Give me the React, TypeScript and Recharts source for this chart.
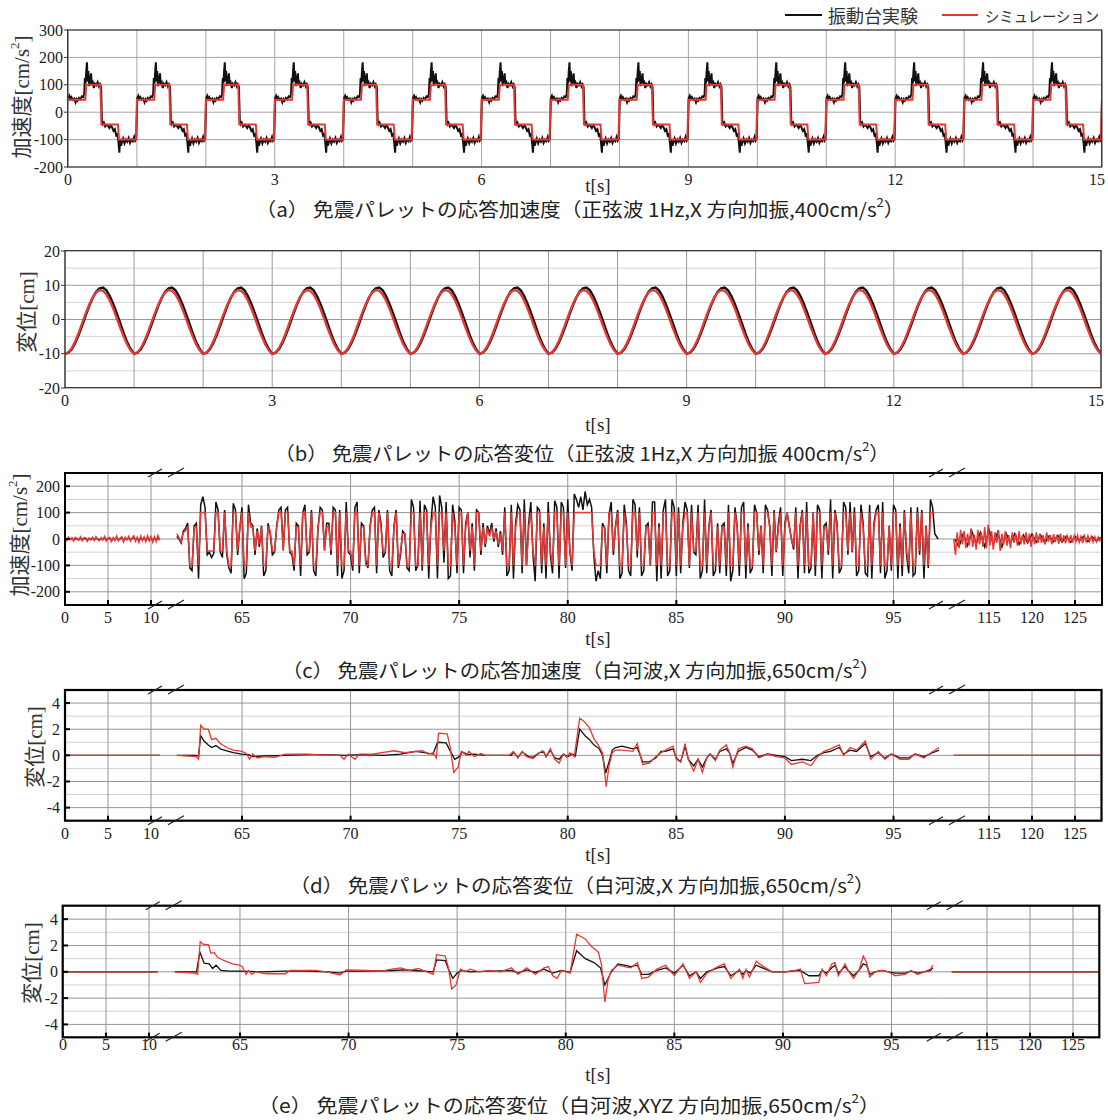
import React from 'react';
import { LineChart, Line, XAxis, YAxis, CartesianGrid } from 'recharts';

type Pair = [number, number];
type Row = { t: number; v: number };

const BLACK = '#111111';
const RED = '#e53935';
const SERIF = "'Liberation Serif','Times New Roman','DejaVu Serif','Noto Sans CJK JP',serif";
const GOTHIC = "'Noto Sans CJK JP',sans-serif";

const seriesNames = ['振動台実験', 'シミュレーション'];

// ---------------- (a) acceleration, sine 1Hz : one cycle (cycles repeat)
const aCycles = 15;
const aBlackCycle: Pair[] = [
  [0.005, 52], [0.02, 60], [0.035, 48], [0.05, 55], [0.07, 45], [0.09, 50], [0.11, 36], [0.125, 48],
  [0.14, 42], [0.16, 52], [0.18, 47], [0.2, 58], [0.22, 55], [0.235, 65], [0.245, 125], [0.255, 105],
  [0.265, 150], [0.275, 182], [0.285, 112], [0.295, 150], [0.305, 95], [0.32, 118], [0.335, 142],
  [0.345, 100], [0.36, 108], [0.375, 88], [0.39, 104], [0.41, 98], [0.43, 110], [0.45, 94], [0.465, 102],
  [0.48, 92], [0.492, -30], [0.505, -44], [0.52, -38], [0.54, -52], [0.56, -46], [0.58, -50], [0.6, -58],
  [0.62, -48], [0.64, -55], [0.66, -68], [0.68, -62], [0.7, -85], [0.72, -80], [0.735, -118], [0.745, -148],
  [0.755, -102], [0.77, -122], [0.785, -108], [0.8, -96], [0.82, -114], [0.84, -100], [0.86, -108],
  [0.88, -94], [0.9, -112], [0.92, -100], [0.94, -106], [0.96, -90], [0.975, -104], [0.99, -98],
];
const aRedCycle: Pair[] = [
  [0, 45], [0.25, 45], [0.265, 100], [0.47, 100], [0.485, -45], [0.725, -45], [0.74, -100], [0.985, -100],
];
const aRedTail: Pair = [0, 45];
const aYTicks = [-200, -100, 0, 100, 200, 300];
const aXTicks = [0, 1, 2, 3, 4, 5, 6, 7, 8, 9, 10, 11, 12, 13, 14, 15];
const aXLabels = [0, 3, 6, 9, 12, 15];

// ---------------- (b) displacement, sine 1Hz : one cycle at 0.05 s
const bStep = 0.05;
const bBlackCycle = [-10, -9.7, -8.6, -6.8, -4.4, -1.7, 1.2, 3.9, 6.3, 8.1, 9.1, 9.3, 8.5, 6.8, 4.5, 1.8, -1.1, -4.0, -6.6, -8.6];
const bRedCycle = [-10, -9.6, -8.3, -6.3, -3.8, -1.0, 1.8, 4.3, 6.4, 7.9, 8.6, 8.4, 7.3, 5.5, 3.1, 0.4, -2.4, -5.0, -7.3, -9.0];
const bTail: Pair = [0, -10];
const bYTicks = [-20, -10, 0, 10, 20];
const bMinorY = [-15, -5, 5, 15];

// ---------------- broken time axis (c)(d)(e)
const segDomains: Pair[] = [[0, 11.51], [61.41, 97.37], [109.88, 128.14]];
const segPx: Pair[] = [[65, 164], [164, 945], [945, 1102]];
const segTicks = [[0, 5, 10], [65, 70, 75, 80, 85, 90, 95], [115, 120, 125]];

// (c) acceleration, Shirakawa wave
const cYTicks = [-200, -100, 0, 100, 200];
const cMinorY = [-150, -50, 50, 150];
const cSeg1Black = [2, -3, 4, -1, 3, -4, 2, 1, -3, 4, -2, 3, 1, -4, 2, -2, 3, -3, 4, -1, -3, 2, -2, 5, -4, 2, 3, -5, 2, -3, 5, -3, 1, 4, -5, 3, -2, 5, -4, 2, 6, -4, 3, -6, 5, -3, 4, -5, 6, -4, 5, -6, 4, -5, 6, -3];
const cSeg1Red = [3, -6, 7, -2, 5, -8, 6, 2, -5, 8, -7, 4, 5, -9, 4, -3, 7, -6, 9, -2, -7, 5, -4, 10, -8, 3, 6, -10, 5, -6, 11, -7, 2, 9, -11, 6, -3, 10, -8, 4, 12, -9, 7, -13, 11, -6, 8, -10, 12, -7, 9, -12, 8, -10, 13, -5];
// 62.0 s .. 96.9 s, every 0.1 s (one row per second)
const cMidBlack = [
  10, 0, -15, 30, 40, 60, -110, -120, 50, 60,
  -150, 130, 160, 120, -60, -50, -70, -55, 140, 110,
  -50, -70, 110, -60, -110, -130, 135, 110, -60, 40,
  120, -150, -130, 130, 60, 50, -60, 40, -30, 50,
  -140, -120, 60, 20, -60, -50, 50, 110, 120, -40,
  110, 120, -50, -60, -120, 60, 50, -140, 100, 130,
  -60, -50, 110, -120, -140, 40, 120, 110, -40, 60,
  60, -60, 120, 110, -140, 110, -150, -120, 140, -50,
  -60, -120, 120, 140, -130, 60, 50, -80, -110, 50,
  110, 120, -130, 110, 60, -70, -50, 110, -120, -140,
  50, 110, -110, -60, 30, 20, -110, -120, 150, 120,
  -120, -100, 145, -120, 130, 110, -150, 60, 160, 120,
  -150, 165, 120, -90, 140, -150, -140, 130, 70, -130,
  120, 110, -130, 60, 100, -70, 60, -120, 110, 100,
  -60, 60, -30, 50, 20, 60, -10, 40, -30, 30,
  -60, 120, -140, -120, 130, -150, 60, 130, 110, -130,
  150, -100, 60, 140, -60, -160, 120, 110, -130, 60,
  -150, 140, -60, -130, 145, 120, -150, 140, 120, -110,
  150, -50, -120, 170, 150, 120, 160, 110, 180, 130,
  150, 120, -60, -160, -120, -150, 60, 40, -130, 90,
  140, -60, 50, 110, -150, -130, 130, 60, -120, -140,
  150, 130, -70, 120, -140, -120, 50, 60, -100, 140,
  140, -160, 60, -150, 110, 150, -140, -120, 150, 120,
  -140, 120, -130, 60, 140, 110, -110, 130, -50, -60,
  130, -150, -120, 150, -130, 50, 110, -140, -120, 60,
  -130, 50, 60, -140, 130, -160, -120, 120, 50, -140,
  120, 140, -150, 60, -130, -110, 130, 100, -60, 50,
  -130, 130, 110, 50, -140, 110, -50, 60, 120, -140,
  60, 100, 50, 0, -40, 120, -150, 50, 110, -130,
  140, -130, -110, 100, -140, 130, 110, -150, 50, 60,
  -60, 150, -150, 110, 60, -130, -110, 140, 120, -60,
  140, -50, 120, -140, -120, 130, 60, -130, -140, 130,
  -150, 60, 110, 130, -130, 140, -150, -120, 50, -120,
  130, 110, -150, 60, -140, 110, -60, -130, 120, -140,
  -130, 120, -60, 110, -150, 50, -110, 150, 120, 20,
];
const cMidBlackEnd: Pair = [97.05, 0];
const cMidRed = [
  20, 5, -10, 25, 30, 45, -100, -100, 45, 45,
  -100, 100, 100, 100, -45, -45, -45, -45, 100, 100,
  -45, -45, 100, -45, -100, -100, 100, 100, -45, 45,
  100, -100, -100, 100, 45, 45, -45, 30, -20, 45,
  -100, -100, 45, 30, -45, -45, 45, 100, 100, -45,
  100, 100, -45, -45, -100, 45, 45, -100, 100, 100,
  -45, -45, 100, -100, -100, 45, 100, 100, -45, 45,
  45, -45, 100, 100, -100, 100, -100, -100, 100, -45,
  -45, -100, 100, 100, -100, 45, 45, -100, -100, 45,
  100, 100, -100, 100, 45, -45, -45, 100, -100, -100,
  45, 100, -100, -45, 20, 20, -100, -100, 100, 100,
  -100, -100, 100, -100, 100, 100, -100, 45, 100, 100,
  -100, 100, 100, -45, 100, -100, -100, 100, 45, -100,
  100, 100, -100, 45, 100, -45, 45, -100, 100, 100,
  -45, 45, -20, 40, 10, 45, 0, 30, -20, 20,
  -45, 100, -100, -100, 100, -100, 45, 100, 100, -100,
  100, -100, 45, 100, -45, -100, 100, 100, -100, 45,
  -100, 100, -45, -100, 100, 100, -100, 100, 100, -100,
  100, -45, -100, 100, 100, 100, 100, 100, 100, 100,
  100, 100, -45, -100, -100, -100, 45, 45, -100, 100,
  100, -45, 45, 100, -100, -100, 100, 45, -100, -100,
  100, 100, -45, 100, -100, -100, 45, 45, -100, 100,
  100, -100, 45, -100, 100, 100, -100, -100, 100, 100,
  -100, 100, -100, 45, 100, 100, -100, 100, -45, -45,
  100, -100, -100, 100, -100, 45, 100, -100, -100, 45,
  -100, 45, 45, -100, 100, -100, -100, 100, 45, -100,
  100, 100, -100, 45, -100, -100, 100, 100, -45, 45,
  -100, 100, 100, 45, -100, 100, -45, 45, 100, -100,
  45, 100, 45, 0, -30, 100, -100, 45, 100, -100,
  100, -100, -100, 100, -100, 100, 100, -100, 45, 45,
  -45, 100, -100, 100, 45, -100, -100, 100, 100, -45,
  100, -45, 100, -100, -100, 100, 45, -100, -100, 100,
  -100, 45, 100, 100, -100, 100, -100, -100, 45, -100,
  100, 100, -100, 45, -100, 100, -45, -100, 100, -100,
  -100, 100, -45, 100, -100, 45, -100, 100, 100, 100,
];
const cSeg3Black = [0, -30, 20, -25, 30, -20, 25, -30, 35, -20, 25, -30, 20, -15, 20, -20, 15, -15, 18, -12, 15, -15, 12, -10, 14, -12, 10, -12, 10, -8, 10, -10, 8, -8, 6];
const cSeg3Red = [
  0, -60, 25, -30, 35, -20, 30, -35, 20, -25,
  40, -30, 15, -40, 35, -20, 25, -30, 45, -35,
  55, -25, 30, -40, 25, -15, 35, -45, 20, -20,
  30, -25, 15, -35, 25, -15, 20, -25, 30, -20,
  15, -20, 25, -15, 20, -30, 15, -20, 25, -15,
  20, -15, 15, -20, 25, -10, 15, -20, 18, -12,
  15, -18, 20, -12, 14, -16, 12, -10, 15, -14,
  12, -10, 14, -12, 10, -15, 12, -10, 12, -8,
  10, -12, 9, -10, 8, -6, 5,
];

// (d)(e) displacement, Shirakawa wave
const dYTicks = [-4, -2, 0, 2, 4];
const dMinorY = [-3, -1, 1, 3];
const flatSeg1: Pair[] = [[0, 0], [11.0, 0]];
const flatSeg3: Pair[] = [[110.9, 0], [128.14, 0]];
const dBlack: Pair[] = [
  [62.0, 0], [62.9, 0], [63.0, -0.05], [63.1, 1.5], [63.25, 1.1], [63.45, 0.8], [63.6, 0.6], [63.8, 0.75], [64.0, 0.5],
  [64.3, 0.35], [64.6, 0.2], [65.0, 0.1], [65.3, 0.05], [65.5, -0.1], [66, -0.05], [67, 0], [68, 0.05], [69, 0.05],
  [69.7, 0], [70.5, 0.05], [71.5, 0], [72.3, 0.1], [73.0, 0.3], [73.4, 0.2], [73.8, 0.1], [74.0, 1.0], [74.4, 0.95],
  [74.6, 0.3], [74.8, -0.3], [75.0, -0.1], [75.15, 0.25], [75.4, 0.05], [75.7, 0.1], [76.2, 0], [77.4, 0], [77.5, 0.25],
  [77.7, -0.15], [77.9, 0.25], [78.2, -0.1], [78.4, -0.15], [78.7, 0.2], [78.9, 0.25], [79.0, -0.1], [79.2, 0.4],
  [79.4, -0.2], [79.6, -0.3], [79.8, 0.1], [80.0, -0.1], [80.2, 0.1], [80.35, -0.05], [80.55, 2.0], [80.8, 1.5],
  [81.0, 1.2], [81.2, 0.8], [81.45, 0.5], [81.6, 0.0], [81.75, -1.35], [81.9, -0.5], [82.05, 0.4], [82.2, 0.6],
  [82.5, 0.7], [83.0, 0.5], [83.2, 0.6], [83.45, -0.5], [83.75, -0.5], [84.05, -0.2], [84.3, 0.3], [84.5, 0.3],
  [84.85, 0.5], [85.0, -0.2], [85.2, -0.5], [85.4, 0.7], [85.55, -0.3], [85.8, -0.8], [86.0, -0.3], [86.2, -0.9],
  [86.4, -0.2], [86.55, 0.1], [86.8, -0.3], [87.0, 0.3], [87.3, 0.5], [87.45, 0.2], [87.6, -0.6], [87.85, 0.3],
  [88.2, 0.6], [88.5, 0.4], [88.8, -0.1], [89.2, 0.1], [89.6, 0.0], [90.0, -0.1], [90.3, -0.4], [90.8, -0.3],
  [91.2, -0.4], [91.5, 0.0], [91.8, 0.2], [92.1, 0.3], [92.5, 0.6], [92.7, 0.1], [93.0, 0.4], [93.3, 0.3], [93.7, 0.9],
  [93.95, -0.1], [94.3, 0.2], [94.6, -0.2], [94.9, 0.1], [95.3, -0.2], [95.7, -0.2], [96.0, 0.1], [96.4, -0.1],
  [96.8, 0.2], [97.1, 0.4],
];
const dRed: Pair[] = [
  [62.0, 0], [62.9, -0.1], [63.0, -0.3], [63.1, 2.3], [63.25, 2.0], [63.45, 2.0], [63.6, 1.2], [63.8, 1.3], [64.0, 0.9],
  [64.3, 0.6], [64.6, 0.4], [65.0, 0.3], [65.2, 0.15], [65.35, -0.3], [65.5, 0.1], [65.7, -0.2], [66, -0.1], [66.5, -0.15],
  [67, 0.1], [68, 0.1], [68.5, 0.05], [69.5, 0.0], [69.7, -0.3], [69.9, 0.1], [70.2, -0.3], [70.4, 0.1], [71, 0.1],
  [72.0, 0.35], [72.5, 0.2], [73.0, 0.3], [73.3, 0.35], [73.6, 0.1], [73.8, 0.2], [73.95, -0.2], [74.05, 1.7],
  [74.45, 1.65], [74.6, 0.5], [74.75, -1.3], [74.95, -0.9], [75.1, 0.3], [75.35, 0.0], [75.45, 0.3], [75.7, -0.1],
  [76.0, 0.15], [76.2, 0], [77.3, 0], [77.5, 0.3], [77.7, -0.2], [77.9, 0.3], [78.1, -0.1], [78.4, -0.25], [78.7, 0.2],
  [78.85, 0.35], [79.0, -0.1], [79.2, 0.5], [79.4, -0.3], [79.6, -0.6], [79.8, 0.1], [79.95, -0.15], [80.1, 0.2],
  [80.3, -0.1], [80.55, 2.85], [80.75, 2.6], [81.0, 2.1], [81.2, 1.3], [81.4, 0.8], [81.6, 0.2], [81.77, -2.4],
  [81.9, -0.8], [82.05, 0.2], [82.2, 0.4], [82.5, 0.4], [83.0, 0.3], [83.2, 0.9], [83.45, -0.7], [83.75, -0.6],
  [84.05, -0.1], [84.3, 0.2], [84.5, 0.4], [84.85, 0.7], [85.0, -0.3], [85.2, -0.5], [85.4, 0.9], [85.55, -0.3],
  [85.8, -1.2], [86.0, -0.3], [86.2, -1.3], [86.4, -0.2], [86.55, 0.1], [86.8, -0.4], [87.0, 0.4], [87.3, 0.8],
  [87.45, 0.2], [87.6, -0.9], [87.85, 0.5], [88.2, 0.7], [88.5, 0.5], [88.8, -0.2], [89.2, 0.1], [89.6, -0.1],
  [90.0, -0.2], [90.3, -0.7], [90.8, -0.5], [91.2, -0.8], [91.5, -0.1], [91.8, 0.3], [92.1, 0.5], [92.5, 0.8],
  [92.7, 0.0], [93.0, 0.6], [93.3, 0.4], [93.7, 1.1], [93.95, -0.3], [94.3, 0.3], [94.6, -0.3], [94.9, 0.1],
  [95.3, -0.3], [95.7, -0.3], [96.0, 0.1], [96.4, -0.2], [96.8, 0.3], [97.1, 0.6],
];
const eBlack: Pair[] = [
  [62.0, 0], [62.9, 0], [63.0, 0], [63.15, 1.5], [63.35, 0.65], [63.58, 0.6], [63.74, 0.25], [63.9, 0.5], [64.12, 0.1],
  [64.5, 0.05], [65, 0.05], [66, 0], [67, 0.05], [68, 0.05], [69, 0], [69.6, -0.1], [69.9, 0.05], [71, 0.05], [72, 0.1],
  [72.5, 0.15], [73.0, 0.1], [73.5, 0.05], [73.9, 0.0], [74.05, 0.9], [74.45, 0.85], [74.6, 0.2], [74.8, -0.5],
  [75.0, -0.1], [75.2, 0.1], [75.6, 0], [76.5, 0.05], [77.5, 0.1], [77.8, -0.1], [78.2, 0.15], [78.6, -0.05], [79.0, 0.2],
  [79.4, -0.1], [79.8, 0.1], [80.2, -0.05], [80.5, 1.6], [80.9, 1.0], [81.3, 0.7], [81.6, 0.3], [81.8, -1.0], [82.1, 0.0],
  [82.4, 0.6], [82.7, 0.5], [83.0, 0.4], [83.3, 0.5], [83.5, -0.2], [83.8, -0.2], [84.2, 0.1], [84.6, 0.3], [85.0, -0.1],
  [85.4, 0.5], [85.7, -0.3], [86.0, 0.0], [86.2, -0.5], [86.5, 0.0], [87.0, 0.3], [87.3, 0.4], [87.6, -0.3], [88.0, 0.1],
  [88.15, -0.2], [88.3, 0.1], [88.5, -0.1], [88.77, 0.5], [88.92, 0.4], [89.2, 0.2], [89.5, 0], [90.1, 0], [90.6, 0.1],
  [90.8, 0.1], [91.2, -0.3], [91.65, -0.3], [91.8, 0.1], [92.0, -0.1], [92.25, 0.3], [92.4, 0.5], [92.55, -0.1],
  [92.86, 0.4], [93.0, 0.1], [93.25, -0.3], [93.5, 0.1], [93.7, 0.6], [93.85, 0.5], [94.0, -0.2], [94.25, 0],
  [94.55, 0.1], [94.86, 0], [95.17, -0.1], [95.63, -0.1], [95.9, 0.05], [96.2, -0.1], [96.5, 0], [96.8, 0.1], [96.9, 0.3],
];
const eRed: Pair[] = [
  [62.0, 0], [62.9, -0.1], [63.05, -0.2], [63.17, 2.3], [63.3, 2.1], [63.55, 2.05], [63.66, 1.4], [63.82, 1.45],
  [63.97, 1.1], [64.2, 0.9], [64.36, 0.8], [64.66, 0.6], [64.97, 0.5], [65.1, 0.4], [65.28, -0.2], [65.4, 0.1],
  [65.55, -0.2], [65.73, 0], [66.2, -0.15], [67.1, -0.15], [67.3, 0.1], [68.5, 0.1], [69.1, -0.05], [69.6, -0.25],
  [69.9, 0.15], [70.8, 0.1], [71.5, 0.05], [72.0, 0.2], [72.4, 0.3], [72.8, 0.1], [73.2, 0.25], [73.6, 0.0], [73.9, -0.2],
  [74.05, 1.3], [74.45, 1.2], [74.6, 0.3], [74.75, -1.3], [74.95, -1.0], [75.15, 0.2], [75.4, 0.0], [75.6, 0.2],
  [76.0, 0.0], [76.5, 0.1], [77.0, 0.0], [77.5, 0.3], [77.8, -0.2], [78.2, 0.3], [78.6, -0.2], [79.0, 0.3], [79.2, 0.4],
  [79.4, -0.3], [79.6, -0.5], [79.8, 0.1], [80.2, -0.1], [80.5, 2.85], [80.9, 2.5], [81.2, 1.9], [81.5, 1.5],
  [81.65, 0.5], [81.8, -2.3], [81.95, -0.6], [82.1, 0.1], [82.4, 0.5], [82.7, 0.4], [83.0, 0.3], [83.3, 0.7],
  [83.5, -0.5], [83.8, -0.4], [84.2, 0.2], [84.6, 0.5], [85.0, -0.3], [85.4, 0.6], [85.7, -0.5], [86.0, 0.0],
  [86.2, -0.8], [86.5, -0.1], [87.0, 0.4], [87.3, 0.6], [87.6, -0.5], [88.0, 0.2], [88.15, -0.5], [88.3, 0.2],
  [88.46, -0.4], [88.77, 0.8], [88.92, 0.6], [89.2, 0.3], [89.5, 0], [90.1, 0], [90.6, 0.1], [90.8, 0.2], [91.0, -0.9],
  [91.65, -0.8], [91.8, 0.2], [92.0, -0.3], [92.25, 0.6], [92.4, 0.7], [92.55, -0.3], [92.86, 0.6], [93.0, 0.1],
  [93.25, -0.5], [93.5, 0.1], [93.7, 1.2], [93.85, 0.7], [94.0, -0.4], [94.25, 0], [94.55, 0.1], [94.86, 0],
  [95.17, -0.3], [95.63, -0.2], [95.9, 0.1], [96.2, -0.2], [96.5, 0], [96.8, 0.2], [96.9, 0.5],
];

// ---------------- helpers (build row tables from the arrays above)
const rowsFromPairs = (p: Pair[]): Row[] => p.map(([t, v]) => ({ t, v }));
const rowsFromSteps = (t0: number, dt: number, vals: number[]): Row[] =>
  vals.map((v, i) => ({ t: Math.round((t0 + i * dt) * 1000) / 1000, v }));
const tileCycle = (cycle: Pair[], n: number, tail: Pair): Row[] => {
  const out: Row[] = [];
  for (let k = 0; k < n; k++) for (const [t, v] of cycle) out.push({ t: Math.round((k + t) * 10000) / 10000, v });
  out.push({ t: n + tail[0], v: tail[1] });
  return out;
};
const stepCycle = (vals: number[], dt: number): Pair[] => vals.map((v, i) => [i * dt, v] as Pair);

const tickStyle = { fontFamily: SERIF, fontSize: 16, fill: '#222', style: { fontFamily: SERIF } };

const PAD_TOP = 12;
const PAD_RIGHT = 20;
const XH = 30;

function TimeTick(props: any) {
  const { x, y, payload } = props;
  const v = payload?.value as number;
  if (!aXLabels.includes(v)) return <g />;
  const shift = v === 15 ? -5 : 0;
  return (
    <text x={x + shift} y={y} dy="0.71em" textAnchor="middle" fontSize={16} fill="#222" style={{ fontFamily: SERIF }}>
      {String(v)}
    </text>
  );
}

type SimpleProps = {
  left: number; right: number; top: number; bottom: number;
  domain: [number, number]; yTicks: number[]; majorY: number[]; minorY: number[];
  black: Row[]; red: Row[]; sw: number; gridColor: string;
};

function SimplePanel(p: SimpleProps) {
  const YW = 50;
  const w = p.right - p.left + YW + PAD_RIGHT;
  const h = p.bottom - p.top + PAD_TOP + XH;
  return (
    <div style={{ position: 'absolute', left: p.left - YW, top: p.top - PAD_TOP }}>
      <LineChart width={w} height={h} margin={{ top: PAD_TOP, right: PAD_RIGHT, bottom: 0, left: 0 }}>
        {p.minorY.length > 0 && (
          <CartesianGrid vertical={false} horizontalValues={p.minorY} stroke="#d6d6d6" strokeWidth={1} />
        )}
        <CartesianGrid horizontalValues={p.majorY} verticalValues={aXTicks} stroke={p.gridColor} strokeWidth={1} />
        <XAxis
          type="number" dataKey="t" domain={[0, 15]} ticks={aXTicks} interval={0} allowDataOverflow
          tickLine={false} axisLine={false} tickSize={0} tickMargin={7} height={XH} tick={<TimeTick />}
        />
        <YAxis
          type="number" domain={p.domain} ticks={p.yTicks} interval={0} allowDataOverflow width={YW}
          axisLine={false} tickSize={4} tickMargin={1} tickLine={{ stroke: '#333' }} tick={tickStyle}
        />
        <Line type="linear" data={p.black} dataKey="v" stroke={BLACK} strokeWidth={p.sw} dot={false} isAnimationActive={false} />
        <Line type="linear" data={p.red} dataKey="v" stroke={RED} strokeWidth={p.sw} dot={false} isAnimationActive={false} />
      </LineChart>
    </div>
  );
}

type Seg = { black: Row[]; red: Row[] };
type BrokenProps = {
  dx: number; top: number; bottom: number; domain: [number, number];
  yTicks: number[]; minorY: number[]; segs: Seg[]; sw: number; xMargin: number;
};

function BrokenPanel(p: BrokenProps) {
  const YW = 50;
  return (
    <>
      {p.segs.map((s, i) => {
        const px0 = segPx[i][0] + p.dx;
        const px1 = segPx[i][1] + p.dx;
        const yw = i === 0 ? YW : 0;
        const pr = i === 2 ? PAD_RIGHT : 0;
        return (
          <div key={i} style={{ position: 'absolute', left: px0 - yw, top: p.top - PAD_TOP }}>
            <LineChart
              width={px1 - px0 + yw + pr}
              height={p.bottom - p.top + PAD_TOP + XH}
              margin={{ top: PAD_TOP, right: pr, bottom: 0, left: 0 }}
            >
              <CartesianGrid vertical={false} horizontalValues={p.minorY} stroke="#d2d2d2" strokeWidth={1} />
              <CartesianGrid horizontalValues={p.yTicks} verticalValues={segTicks[i]} stroke="#969696" strokeWidth={1} />
              <XAxis
                type="number" dataKey="t" domain={segDomains[i]} ticks={segTicks[i]} interval={0} allowDataOverflow
                axisLine={false} tickSize={-5} tickMargin={p.xMargin} height={XH}
                tickLine={{ stroke: '#000', strokeWidth: 2 }} tick={tickStyle}
              />
              <YAxis
                type="number" domain={p.domain} ticks={p.yTicks} interval={0} allowDataOverflow
                hide={i !== 0} width={yw || 1} axisLine={false} tickSize={-5} tickMargin={10}
                tickLine={{ stroke: '#000', strokeWidth: 2 }} tick={tickStyle}
              />
              <Line type="linear" data={s.black} dataKey="v" stroke={BLACK} strokeWidth={p.sw} dot={false} isAnimationActive={false} />
              <Line type="linear" data={s.red} dataKey="v" stroke={RED} strokeWidth={p.sw} dot={false} isAnimationActive={false} />
            </LineChart>
          </div>
        );
      })}
    </>
  );
}

function BreakMarks({ cx, top, bottom }: { cx: number; top: number; bottom: number }) {
  return (
    <g stroke="#222" strokeWidth={1.2}>
      {[top, bottom].map((y, k) => (
        <g key={k}>
          <line x1={cx - 16} y1={y + 4} x2={cx - 2} y2={y - 4} />
          <line x1={cx + 4} y1={y + 4} x2={cx + 20} y2={y - 5} />
        </g>
      ))}
    </g>
  );
}

function YLabel({ x, y, text, sup, tail }: { x: number; y: number; text: string; sup?: string; tail?: string }) {
  return (
    <text transform={`translate(${x},${y}) rotate(-90)`} textAnchor="middle" dominantBaseline="central"
      style={{ fontFamily: SERIF }} fontSize={21} fill="#333">
      {text}
      {sup && <tspan dy={-8} fontSize={13}>{sup}</tspan>}
      {tail && <tspan dy={sup ? 8 : 0}>{tail}</tspan>}
    </text>
  );
}

function Caption({ cx, y, width, text, sup, tail }: { cx: number; y: number; width: number; text: string; sup: string; tail: string }) {
  return (
    <text x={cx} y={y} textAnchor="middle" dominantBaseline="central" style={{ fontFamily: GOTHIC }} fontSize={19} fill="#222"
      textLength={width} lengthAdjust="spacingAndGlyphs">
      {text}
      <tspan dy={-7} fontSize={12}>{sup}</tspan>
      <tspan dy={7}>{tail}</tspan>
    </text>
  );
}

export default function App() {
  const aBlack = tileCycle(aBlackCycle, aCycles, [0, aBlackCycle[0][1]]);
  const aRed = tileCycle(aRedCycle, aCycles, aRedTail);
  const bBlack = tileCycle(stepCycle(bBlackCycle, bStep), aCycles, bTail);
  const bRed = tileCycle(stepCycle(bRedCycle, bStep), aCycles, bTail);

  const cSegs: Seg[] = [
    { black: rowsFromSteps(0, 0.2, cSeg1Black), red: rowsFromSteps(0, 0.2, cSeg1Red) },
    {
      black: [...rowsFromSteps(62.0, 0.1, cMidBlack), ...rowsFromPairs([cMidBlackEnd])],
      red: rowsFromSteps(62.0, 0.1, cMidRed),
    },
    { black: rowsFromSteps(111.0, 0.5, cSeg3Black), red: rowsFromSteps(110.9, 0.2, cSeg3Red) },
  ];
  const dSegs: Seg[] = [
    { black: rowsFromPairs(flatSeg1), red: rowsFromPairs(flatSeg1) },
    { black: rowsFromPairs(dBlack), red: rowsFromPairs(dRed) },
    { black: rowsFromPairs(flatSeg3), red: rowsFromPairs(flatSeg3) },
  ];
  const eSegs: Seg[] = [
    { black: rowsFromPairs(flatSeg1), red: rowsFromPairs(flatSeg1) },
    { black: rowsFromPairs(eBlack), red: rowsFromPairs(eRed) },
    { black: rowsFromPairs(flatSeg3), red: rowsFromPairs(flatSeg3) },
  ];

  return (
    <div style={{ position: 'absolute', left: 0, top: 0, width: 1108, height: 1120, background: '#fff', overflow: 'hidden' }}>
      <SimplePanel left={67.7} right={1101.7} top={30} bottom={167} domain={[-200, 300]} yTicks={aYTicks}
        majorY={[-100, 0, 100, 200]} minorY={[]} black={aBlack} red={aRed} sw={2} gridColor="#a6a6a6" />
      <SimplePanel left={65} right={1101} top={250.7} bottom={387.7} domain={[-20, 20]} yTicks={bYTicks}
        majorY={[-10, 0, 10]} minorY={bMinorY} black={bBlack} red={bRed} sw={2.4} gridColor="#9a9a9a" />
      <BrokenPanel dx={0} top={473} bottom={605} domain={[-250, 250]} yTicks={cYTicks} minorY={cMinorY} segs={cSegs} sw={1.5} xMargin={12} />
      <BrokenPanel dx={0} top={690} bottom={820.7} domain={[-5, 5]} yTicks={dYTicks} minorY={dMinorY} segs={dSegs} sw={1.3} xMargin={12} />
      <BrokenPanel dx={-2.3} top={905.7} bottom={1037.3} domain={[-5, 5]} yTicks={dYTicks} minorY={dMinorY} segs={eSegs} sw={1.3} xMargin={6} />

      <svg width={1108} height={1120} style={{ position: 'absolute', left: 0, top: 0, pointerEvents: 'none' }}>
        {/* frames */}
        <rect x={67.7} y={30} width={1034} height={137} fill="none" stroke="#333" strokeWidth={1.3} />
        <rect x={65} y={250.7} width={1036} height={137} fill="none" stroke="#333" strokeWidth={1.3} />
        <rect x={65} y={473} width={1037} height={132} fill="none" stroke="#000" strokeWidth={2} />
        <rect x={65} y={690} width={1036.5} height={130.7} fill="none" stroke="#000" strokeWidth={2.2} />
        <rect x={62.7} y={905.7} width={1036.6} height={131.6} fill="none" stroke="#000" strokeWidth={2.2} />
        <BreakMarks cx={164} top={473} bottom={605} />
        <BreakMarks cx={945} top={473} bottom={605} />
        <BreakMarks cx={164} top={690} bottom={820.7} />
        <BreakMarks cx={945} top={690} bottom={820.7} />
        <BreakMarks cx={161.7} top={905.7} bottom={1037.3} />
        <BreakMarks cx={942.7} top={905.7} bottom={1037.3} />

        {/* legend */}
        <line x1={785} y1={15} x2={822} y2={15} stroke={BLACK} strokeWidth={2} />
        <text x={828} y={15} dominantBaseline="central" style={{ fontFamily: GOTHIC }} fontSize={18} fill="#333"
          textLength={90} lengthAdjust="spacingAndGlyphs">{seriesNames[0]}</text>
        <line x1={942} y1={15} x2={978} y2={15} stroke={RED} strokeWidth={2} />
        <text x={985} y={15} dominantBaseline="central" style={{ fontFamily: GOTHIC }} fontSize={15} fill="#333"
          textLength={114} lengthAdjust="spacingAndGlyphs">{seriesNames[1]}</text>

        {/* y labels */}
        <YLabel x={22} y={97} text="加速度[cm/s" sup="2" tail="]" />
        <YLabel x={27} y={312} text="変位[cm]" />
        <YLabel x={20} y={535} text="加速度[cm/s" sup="2" tail="]" />
        <YLabel x={35} y={747} text="変位[cm]" />
        <YLabel x={32} y={963} text="変位[cm]" />

        {/* x labels */}
        {[185, 424, 638, 854, 1074].map((y, i) => (
          <text key={i} x={598} y={y} textAnchor="middle" dominantBaseline="central" style={{ fontFamily: SERIF }} fontSize={19} fill="#222">t[s]</text>
        ))}

        {/* captions */}
        <Caption cx={580} y={208} width={649} text="（a） 免震パレットの応答加速度（正弦波 1Hz,X 方向加振,400cm/s" sup="2" tail="）" />
        <Caption cx={582} y={452} width={615} text="（b） 免震パレットの応答変位（正弦波 1Hz,X 方向加振 400cm/s" sup="2" tail="）" />
        <Caption cx={581} y={669} width={598} text="（c） 免震パレットの応答加速度（白河波,X 方向加振,650cm/s" sup="2" tail="）" />
        <Caption cx={582} y={884} width={585} text="（d） 免震パレットの応答変位（白河波,X 方向加振,650cm/s" sup="2" tail="）" />
        <Caption cx={569} y={1104} width={622} text="（e） 免震パレットの応答変位（白河波,XYZ 方向加振,650cm/s" sup="2" tail="）" />
      </svg>
    </div>
  );
}
